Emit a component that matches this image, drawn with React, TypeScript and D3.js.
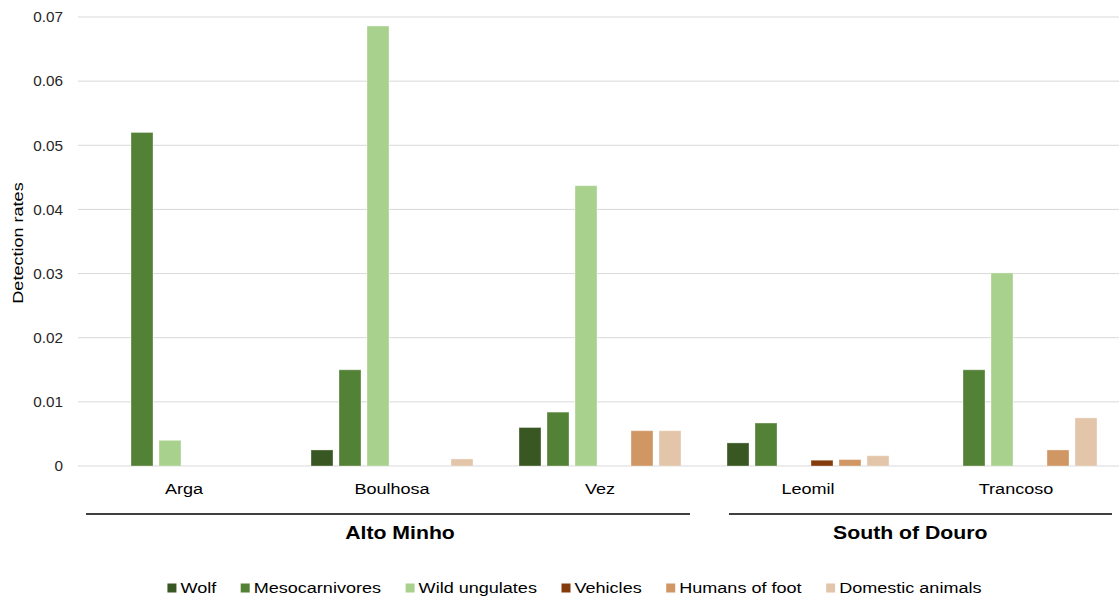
import React from "react";
import * as d3 from "d3";

const categories = ["Arga", "Boulhosa", "Vez", "Leomil", "Trancoso"];
const seriesNames = ["Wolf", "Mesocarnivores", "Wild ungulates", "Vehicles", "Humans of foot", "Domestic animals"];
const seriesColors = ["#385723", "#538135", "#A9D18E", "#843C0C", "#D09664", "#E3C6A9"];
const wolf = [0, 0.0025, 0.006, 0.0036, 0];
const mesocarnivores = [0.052, 0.015, 0.0084, 0.0067, 0.015];
const wildUngulates = [0.004, 0.0686, 0.0437, 0, 0.0301];
const vehicles = [0, 0, 0, 0.0009, 0];
const humansOfFoot = [0, 0, 0.0055, 0.001, 0.0025];
const domesticAnimals = [0, 0.0011, 0.0055, 0.0016, 0.0075];
const yTicks = [0, 0.01, 0.02, 0.03, 0.04, 0.05, 0.06, 0.07];
const yTickLabels = ["0", "0.01", "0.02", "0.03", "0.04", "0.05", "0.06", "0.07"];
const groupNames = ["Alto Minho", "South of Douro"];
const groupCategories = [["Arga", "Boulhosa", "Vez"], ["Leomil", "Trancoso"]];

const seriesValues = [wolf, mesocarnivores, wildUngulates, vehicles, humansOfFoot, domesticAnimals];

const W = 1119;
const H = 599;
const FONT = "'Liberation Sans', Arial, sans-serif";
const SX = 1.18;

function measure(text: string, size: number, bold = false) {
  if (typeof document === "undefined") return text.length * size * 0.55;
  const c = document.createElement("canvas");
  const ctx = c.getContext("2d")!;
  ctx.font = `${bold ? "bold " : ""}${size}px 'Liberation Sans', Arial, sans-serif`;
  return ctx.measureText(text).width;
}

export default function App() {
  const plotLeft = 80;
  const plotRight = 1120;
  const gridLeft = 78;
  const y = d3.scaleLinear().domain([0, 0.07]).range([466, 17]);
  const x0 = d3.scaleBand<string>().domain(categories).range([plotLeft, plotRight]).padding(0);
  const x1 = d3
    .scaleBand<string>()
    .domain(seriesNames)
    .range([20, x0.bandwidth() - 20])
    .paddingInner(0.214)
    .paddingOuter(0.107);

  // legend layout
  const legendSize = 15.3;
  const markerW = 9;
  const markerGap = 4;
  const itemGap = 24.5;
  const widths = seriesNames.map((s) => markerW + markerGap + measure(s, legendSize) * SX);
  const total = d3.sum(widths) + itemGap * (seriesNames.length - 1);
  const legendStart = 574.5 - total / 2;
  const legendX: number[] = [];
  let acc = legendStart;
  widths.forEach((w) => {
    legendX.push(acc);
    acc += w + itemGap;
  });
  const legendY = 588;

  return (
    <svg width={W} height={H} style={{ position: "absolute", left: 0, top: 0, background: "#fff" }} fontFamily={FONT}>
      {/* grid */}
      {yTicks.map((t, i) => (
        <g key={"g" + i}>
          <line x1={gridLeft} x2={W} y1={y(t)} y2={y(t)} stroke="#d9d9d9" strokeWidth={1} />
          <text x={63} y={y(t)} dy="0.35em" textAnchor="end" fontSize={15.3} fill="#262626">
            {yTickLabels[i]}
          </text>
        </g>
      ))}
      {/* bars */}
      {categories.map((c, ci) => (
        <g key={c} transform={`translate(${x0(c)},0)`}>
          {seriesNames.map((s, si) => {
            const v = seriesValues[si][ci];
            if (!v) return null;
            return (
              <rect
                key={s}
                x={x1(s)}
                y={y(v)}
                width={x1.bandwidth()}
                height={y(0) - y(v)}
                fill={seriesColors[si]}
                stroke="#ffffff"
                strokeOpacity={0.35}
                strokeWidth={1}
              />
            );
          })}
        </g>
      ))}
      {/* category labels */}
      {categories.map((c) => (
        <text
          key={"l" + c}
          transform={`translate(${(x0(c) as number) + x0.bandwidth() / 2},489) scale(${SX},1)`}
          dy="0.35em"
          textAnchor="middle"
          fontSize={15.3}
          fill="#000"
        >
          {c}
        </text>
      ))}
      {/* group lines and labels */}
      {groupNames.map((g, gi) => {
        const cats = groupCategories[gi];
        const start = x0(cats[0]) as number;
        const end = (x0(cats[cats.length - 1]) as number) + x0.bandwidth();
        const insetL = gi === 0 ? 6 : 25;
        const insetR = gi === 0 ? 14 : 8;
        return (
          <g key={g}>
            <line x1={start + insetL} x2={end - insetR} y1={514} y2={514} stroke="#000" strokeWidth={1.3} />
            <text
              transform={`translate(${(start + end) / 2 + (gi === 0 ? 8 : -1.7)},533) scale(${SX},1)`}
              dy="0.35em"
              textAnchor="middle"
              fontSize={18}
              fontWeight="bold"
              fill="#000"
            >
              {g}
            </text>
          </g>
        );
      })}
      {/* y axis title */}
      <text
        transform={`translate(18,243) rotate(-90) scale(${SX},1)`}
        textAnchor="middle"
        dy="0.35em"
        fontSize={15.3}
        fill="#000"
      >
        Detection rates
      </text>
      {/* legend */}
      {seriesNames.map((s, i) => (
        <g key={"lg" + s}>
          <rect x={legendX[i]} y={legendY - 4.5} width={markerW} height={markerW} fill={seriesColors[i]} />
          <text
            transform={`translate(${legendX[i] + markerW + markerGap},${legendY}) scale(${SX},1)`}
            dy="0.35em"
            fontSize={legendSize}
            fill="#000"
          >
            {s}
          </text>
        </g>
      ))}
    </svg>
  );
}
